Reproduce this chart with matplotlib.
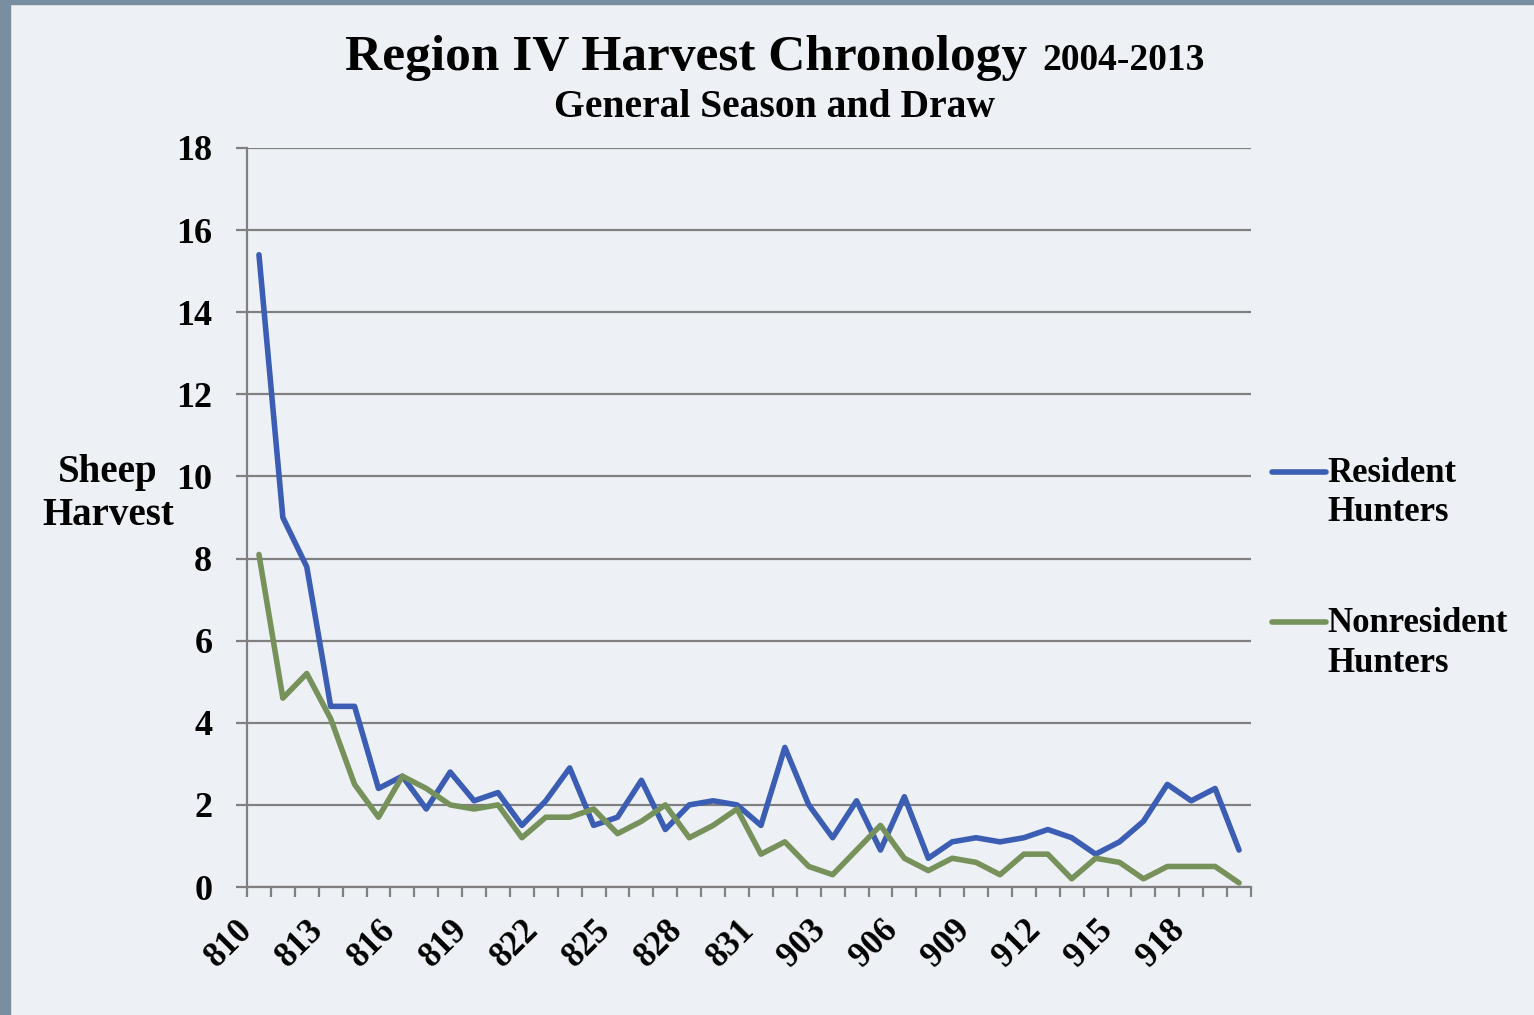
import numpy as np
import matplotlib.pyplot as plt
from matplotlib.patches import Rectangle
from matplotlib.offsetbox import TextArea, HPacker, AnchoredOffsetbox
from matplotlib.legend_handler import HandlerLine2D

# hunt units: 810-831 then 901-920
units = [str(u) for u in list(range(810, 832)) + list(range(901, 921))]

resident = [15.4, 9.0, 7.8, 4.4, 4.4, 2.4, 2.7, 1.9, 2.8, 2.1,
            2.3, 1.5, 2.1, 2.9, 1.5, 1.7, 2.6, 1.4, 2.0, 2.1,
            2.0, 1.5, 3.4, 2.0, 1.2, 2.1, 0.9, 2.2, 0.7, 1.1,
            1.2, 1.1, 1.2, 1.4, 1.2, 0.8, 1.1, 1.6, 2.5, 2.1,
            2.4, 0.9]
nonresident = [8.1, 4.6, 5.2, 4.1, 2.5, 1.7, 2.7, 2.4, 2.0, 1.9,
               2.0, 1.2, 1.7, 1.7, 1.9, 1.3, 1.6, 2.0, 1.2, 1.5,
               1.9, 0.8, 1.1, 0.5, 0.3, 0.9, 1.5, 0.7, 0.4, 0.7,
               0.6, 0.3, 0.8, 0.8, 0.2, 0.7, 0.6, 0.2, 0.5, 0.5,
               0.5, 0.1]
yticks = list(range(0, 19, 2))

plt.rcParams['font.family'] = ['Liberation Serif', 'DejaVu Serif']
plt.rcParams['font.weight'] = 'bold'
plt.rcParams['axes.labelweight'] = 'bold'

bg = '#edf1f5'
grey = '#808080'
W, H = 1534, 1015


class FirstLineHandler(HandlerLine2D):
    # put the legend key next to the first line of a two-line label
    def create_artists(self, legend, orig_handle, xdescent, ydescent,
                       width, height, fontsize, trans):
        artists = super().create_artists(legend, orig_handle, xdescent, ydescent,
                                         width, height, fontsize, trans)
        for a in artists:
            a.set_ydata(np.asarray(a.get_ydata()) + 0.63 * fontsize)
        return artists


fig = plt.figure(figsize=(W / 100, H / 100), dpi=100, facecolor=bg)
# frame strips on the left and top
fig.patches.append(Rectangle((0, 0), 10 / W, 1, transform=fig.transFigure,
                             color='#7a8ea2', zorder=0))
fig.patches.append(Rectangle((0, 1 - 4 / H), 1, 4 / H, transform=fig.transFigure,
                             color='#7a8ea2', zorder=0))

ax = fig.add_axes([247 / W, 1 - 887 / H, 1004 / W, 739 / H])
ax.set_facecolor(bg)

x = np.arange(len(units))
ax.plot(x, resident, color='#3c5db4', lw=4, solid_capstyle='round',
        label='Resident\nHunters')
ax.plot(x, nonresident, color='#76915a', lw=4, solid_capstyle='round',
        label='Nonresident\nHunters')

ax.set_ylim(0, 18)
ax.set_yticks(yticks)
ax.yaxis.grid(True, color=grey, lw=1.6)
ax.set_axisbelow(True)
ax.tick_params(axis='y', length=8, width=1.6, color=grey, pad=17, labelsize=26)

ax.set_xlim(-0.5, len(units) - 0.5)
ax.set_xticks(x[::3])
ax.set_xticklabels(units[::3], rotation=45, ha='right', fontsize=25)
ax.set_xticks(np.arange(-0.5, len(units), 1), minor=True)
ax.tick_params(axis='x', which='major', length=0, pad=19)
ax.tick_params(axis='x', which='minor', length=7.5, width=1.6, color=grey)

for s in ['top', 'right']:
    ax.spines[s].set_visible(False)
for s in ['left', 'bottom']:
    ax.spines[s].set_color(grey)
    ax.spines[s].set_linewidth(1.6)

ax.set_ylabel('Sheep\nHarvest', rotation=0, fontsize=28, ha='center',
              va='center', linespacing=1.2)
ax.yaxis.set_label_coords(-0.1384, 0.532)

leg = ax.legend(loc='upper left', bbox_to_anchor=(1272 / W, 1 - 457 / H),
                bbox_transform=fig.transFigure, frameon=False, fontsize=25,
                handlelength=1.55, handletextpad=0.05, labelspacing=2.25,
                borderpad=0, borderaxespad=0,
                handler_map={plt.Line2D: FirstLineHandler()})
for t in leg.get_texts():
    t.set_linespacing(1.25)

# title with smaller year range on the same baseline
t1 = TextArea('Region IV Harvest Chronology', textprops=dict(fontsize=37, fontweight='bold'))
t2 = TextArea('2004-2013', textprops=dict(fontsize=27, fontweight='bold'))
title = HPacker(children=[t1, t2], align='baseline', pad=0, sep=11)
fig.add_artist(AnchoredOffsetbox(loc='center', child=title, pad=0, borderpad=0,
                                 bbox_to_anchor=(775 / W, 1 - 58 / H),
                                 bbox_transform=fig.transFigure, frameon=False))
fig.text(775 / W, 1 - 117 / H, 'General Season and Draw', ha='center',
         va='baseline', fontsize=28.5)

fig.savefig('out.png', dpi=100, facecolor=bg)
